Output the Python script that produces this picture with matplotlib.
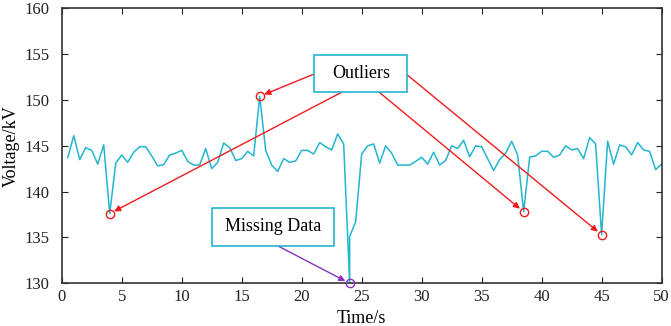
import numpy as np
import matplotlib.pyplot as plt
from matplotlib.patches import Rectangle

plt.rcParams['font.family'] = ['Liberation Serif', 'DejaVu Serif']

# sampled voltage, one sample every 0.5 s
time = np.arange(0.5, 50.01, 0.5)
voltage = [143.7, 146.1, 143.5, 144.8, 144.5, 143.0, 145.1, 137.6, 143.1, 144.0,
           143.2, 144.3, 144.9, 144.9, 143.9, 142.8, 142.95, 144.0, 144.2, 144.5,
           143.3, 142.9, 142.9, 144.7, 142.5, 143.2, 145.3, 144.8, 143.4, 143.6,
           144.4, 143.9, 150.4, 144.5, 142.9, 142.2, 143.6, 143.2, 143.35, 144.5,
           144.5, 144.1, 145.35, 144.9, 144.55, 146.3, 145.2, 135.1, 136.7, 144.1,
           145.0, 145.2, 143.1, 145.0, 144.2, 142.9, 142.9, 142.9, 143.3, 143.75,
           143.0, 144.3, 142.9, 143.4, 145.0, 144.7, 145.6, 143.8, 145.0, 144.9,
           143.6, 142.3, 143.5, 144.2, 145.5, 144.0, 137.8, 143.75, 143.9, 144.4,
           144.4, 143.75, 144.0, 145.0, 144.55, 144.7, 143.6, 145.9, 145.2, 135.3,
           145.5, 143.0, 145.1, 144.9, 144.0, 145.35, 144.55, 144.4, 142.4, 143.0]
voltage = np.array(voltage)

missing_t = 24.0
missing_v = 130.0
outlier_t = [4.0, 16.5, 38.5, 45.0]

cyan = '#22b6cf'
red = '#f01c1c'
purple = '#8a2fc8'

# line goes down to the missing sample and back up at the same time stamp
idx = np.searchsorted(time, missing_t)
t_line = np.insert(time, idx, missing_t)
v_line = np.insert(voltage, idx, missing_v)

out_v = [voltage[np.argmin(abs(time - t))] for t in outlier_t]

fig = plt.figure(figsize=(6.71, 3.26), dpi=100)
ax = fig.add_axes([0.092, 0.131, 0.894, 0.8435])

ax.plot(t_line, v_line, color=cyan, lw=1.1, zorder=2, clip_on=False)
ax.plot(outlier_t, out_v, 'o', mfc='none', mec=red, ms=6, mew=1.0, zorder=3)
ax.plot([missing_t], [missing_v], 'o', mfc='none', mec=purple, ms=6, mew=1.0,
        zorder=3, clip_on=False)

ax.set_xlim(0, 50)
ax.set_ylim(130, 160)
ax.set_xticks(np.arange(0, 51, 5))
ax.set_yticks(np.arange(130, 161, 5))
ax.tick_params(direction='in', top=True, right=True, length=4.5, width=0.8,
               labelsize=12, colors='#222222')
ax.tick_params(axis='y', pad=9)
ax.tick_params(axis='x', pad=4)
for s in ax.spines.values():
    s.set_color('#333333')
    s.set_linewidth(1.2)
ax.set_xlabel('Time/s', fontsize=13, labelpad=4)
ax.set_ylabel('Voltage/kV', fontsize=13, labelpad=3)

# annotation boxes
ax.add_patch(Rectangle((21.05, 150.84), 7.75, 4.07, fc='white', ec=cyan, lw=1.2, zorder=5))
ax.text(24.93, 152.87, 'Outliers', fontsize=13, ha='center', va='center', zorder=6)
ax.add_patch(Rectangle((12.5, 134.11), 10.19, 4.08, fc='white', ec=cyan, lw=1.2, zorder=5))
ax.text(17.6, 136.15, 'Missing Data', fontsize=13, ha='center', va='center', zorder=6)

starts = [(23.33, 150.84), (21.05, 152.84), (26.47, 150.84), (28.8, 152.73)]
for (sx, sy), t, v in zip(starts, outlier_t, out_v):
    ax.annotate('', xy=(t, v), xytext=(sx, sy),
                arrowprops=dict(arrowstyle='-|>', color=red, lw=1.0,
                                mutation_scale=9, shrinkA=0, shrinkB=3.5),
                zorder=4)
ax.annotate('', xy=(missing_t, missing_v), xytext=(17.97, 134.11),
            arrowprops=dict(arrowstyle='-|>', color=purple, lw=1.0,
                            mutation_scale=9, shrinkA=0, shrinkB=3.5),
            zorder=4, annotation_clip=False)

fig.savefig('out.png', dpi=100)
